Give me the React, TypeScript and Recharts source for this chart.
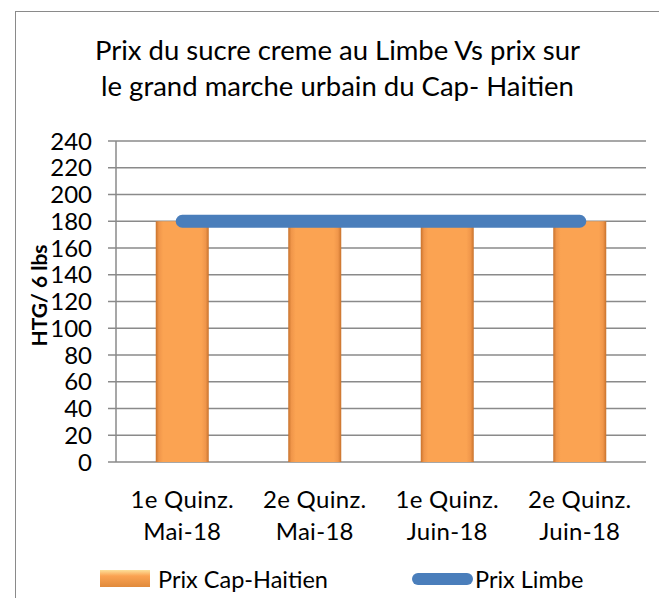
import React from 'react';
import { ComposedChart, Bar, Line, XAxis, YAxis, CartesianGrid, Legend } from 'recharts';

const categories = ['1e Quinz.\nMai-18', '2e Quinz.\nMai-18', '1e Quinz.\nJuin-18', '2e Quinz.\nJuin-18'];
const prixCap = [180, 180, 180, 180];
const prixLimbe = [180, 180, 180, 180];
const yTicks = [0, 20, 40, 60, 80, 100, 120, 140, 160, 180, 200, 220, 240];
const edgeTicks = [0, 1, 2, 3, 4];

const titleLines = ['Prix du sucre creme au Limbe Vs prix sur', 'le grand marche urbain du Cap- Haitien'];

const data = categories.map((c, i) => ({ name: c, cap: prixCap[i], limbe: prixLimbe[i] }));

const FONT = 'Lato, "Open Sans", sans-serif';
const GRID = '#8a8a8a';
const ORANGE_DARK = '#c8722c';
const ORANGE_LIGHT = '#fba352';
const BLUE = '#4a7ebb';

function CategoryTick(props: any) {
  const { x, y, payload } = props;
  const lines = String(payload.value).split('\n');
  return (
    <text x={x} y={y} textAnchor="middle" fill="#000" fontSize={24} fontFamily={FONT} letterSpacing={0.3}>
      {lines.map((l, i) => (
        <tspan key={i} x={x} dy={i === 0 ? 36 : 32}>
          {l}
        </tspan>
      ))}
    </text>
  );
}

function LegendContent() {
  return (
    <div style={{ position: 'relative', height: 30, fontFamily: FONT, fontSize: 23.5, color: '#000' }}>
      <div
        style={{
          position: 'absolute',
          left: 100,
          top: 6,
          width: 50,
          height: 17,
          background: `linear-gradient(to bottom, #fde09a 0%, ${ORANGE_LIGHT} 35%, #e08a3c 100%)`,
        }}
      />
      <span style={{ position: 'absolute', left: 158, top: 0, lineHeight: '30px' }}>Prix Cap-Haitien</span>
      <div
        style={{
          position: 'absolute',
          left: 412,
          top: 9,
          width: 61,
          height: 12,
          borderRadius: 6,
          background: BLUE,
        }}
      />
      <span style={{ position: 'absolute', left: 475, top: 0, lineHeight: '30px' }}>Prix Limbe</span>
    </div>
  );
}

export default function App() {
  return (
    <div style={{ position: 'absolute', left: 0, top: 0, width: 659, height: 598, overflow: 'hidden', background: '#fff' }}>
      <div
        style={{
          position: 'absolute',
          left: 15,
          top: 11,
          width: 720,
          height: 700,
          border: `1.5px solid ${GRID}`,
        }}
      />
      <div
        style={{
          position: 'absolute',
          left: 15,
          top: 32,
          width: 645,
          textAlign: 'center',
          fontFamily: FONT,
          fontSize: 27.5,
          lineHeight: '36px',
          color: '#000',
        }}
      >
        {titleLines.map((t) => (
          <div key={t}>{t}</div>
        ))}
      </div>
      <div style={{ position: 'absolute', left: 0, top: 0 }}>
        <ComposedChart
          width={659}
          height={598}
          data={data}
          barCategoryGap="30%"
          margin={{ top: 141, right: 13, left: 0, bottom: 0 }}
        >
          <defs>
            <linearGradient id="barGrad" x1="0" y1="0" x2="1" y2="0">
              <stop offset="0%" stopColor={ORANGE_DARK} />
              <stop offset="6%" stopColor="#f0964a" />
              <stop offset="14%" stopColor={ORANGE_LIGHT} />
              <stop offset="86%" stopColor={ORANGE_LIGHT} />
              <stop offset="94%" stopColor="#f0964a" />
              <stop offset="100%" stopColor={ORANGE_DARK} />
            </linearGradient>
          </defs>
          <CartesianGrid vertical={false} stroke={GRID} strokeWidth={1.5} />
          <XAxis
            xAxisId="edge"
            type="number"
            domain={[0, 4]}
            ticks={edgeTicks}
            height={0}
            tickSize={8}
            stroke={GRID}
            strokeWidth={1.5}
            tick={() => <g />}
          />
          <XAxis
            dataKey="name"
            height={136}
            axisLine={false}
            tickLine={false}
            tickSize={8}
            interval={0}
            tick={<CategoryTick />}
          />
          <YAxis
            width={116}
            domain={[0, 240]}
            ticks={yTicks}
            interval={0}
            tickSize={8}
            tickMargin={16}
            stroke={GRID}
            strokeWidth={1.5}
            tick={{ fill: '#000', fontSize: 24, fontFamily: FONT }}
            label={{
              content: (p: any) => {
                const vb = p.viewBox || {};
                const cx = 47;
                const cy = (vb.y || 141) + (vb.height || 321) / 2 - 6;
                return (
                  <text
                    x={cx}
                    y={cy}
                    transform={`rotate(-90 ${cx} ${cy})`}
                    textAnchor="middle"
                    fontFamily={FONT}
                    fontSize={21}
                    fontWeight="bold"
                    fill="#000"
                  >
                    HTG/ 6 lbs
                  </text>
                );
              },
            }}
          />
          <Legend
            layout="horizontal"
            verticalAlign="middle"
            align="center"
            wrapperStyle={{ top: 564, left: 0, width: 659 }}
            content={<LegendContent />}
          />
          <Bar dataKey="cap" name="Prix Cap-Haitien" fill="url(#barGrad)" isAnimationActive={false} />
          <Line
            dataKey="limbe"
            name="Prix Limbe"
            stroke={BLUE}
            strokeWidth={13}
            strokeLinecap="round"
            dot={false}
            activeDot={false}
            isAnimationActive={false}
          />
        </ComposedChart>
      </div>
    </div>
  );
}
